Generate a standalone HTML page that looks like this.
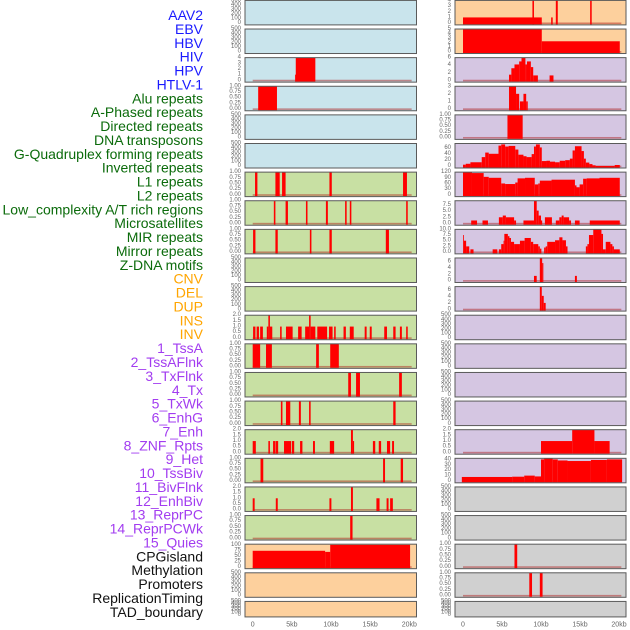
<!DOCTYPE html>
<html><head><meta charset="utf-8"><style>
html,body{margin:0;padding:0;background:#fff;width:630px;height:630px;overflow:hidden}
svg{display:block}
text{font-family:"Liberation Sans",sans-serif}
</style></head><body>
<svg id="chart" width="630" height="630" viewBox="0 0 630 630" xmlns="http://www.w3.org/2000/svg">
<g id="labels"></g>
<g id="panels"></g>
<g id="xaxes"></g>
</svg>
<script>
// ---- data ----
const featureNames = ["AAV2","EBV","HBV","HIV","HPV","HTLV-1","Alu repeats","A-Phased repeats","Directed repeats","DNA transposons","G-Quadruplex forming repeats","Inverted repeats","L1 repeats","L2 repeats","Low_complexity A/T rich regions","Microsatellites","MIR repeats","Mirror repeats","Z-DNA motifs","CNV","DEL","DUP","INS","INV","1_TssA","2_TssAFlnk","3_TxFlnk","4_Tx","5_TxWk","6_EnhG","7_Enh","8_ZNF_Rpts","9_Het","10_TssBiv","11_BivFlnk","12_EnhBiv","13_ReprPC","14_ReprPCWk","15_Quies","CPGisland","Methylation","Promoters","ReplicationTiming","TAD_boundary"];
const featureGroups = ["virus","virus","virus","virus","virus","virus","repeat","repeat","repeat","repeat","repeat","repeat","repeat","repeat","repeat","repeat","repeat","repeat","repeat","sv","sv","sv","sv","sv","chrom","chrom","chrom","chrom","chrom","chrom","chrom","chrom","chrom","chrom","chrom","chrom","chrom","chrom","chrom","other","other","other","other","other"];
const xTickValues = [0,5,10,15,20];
const xTickLabels = ["0","5kb","10kb","15kb","20kb"];

const ticks500 = [0,100,200,300,400,500];
const ticks1 = [0,0.25,0.5,0.75,1];
const ticks2 = [0,0.5,1,1.5,2];
const ticks4 = [0,1,2,3,4];

// left column bars [startKb, endKb, value]
const hbvBars = [[5.4,5.5,1],[5.5,8.0,4]];
const hivBars = [[0.7,3.1,1]];
const aluBars = [[0.3,0.6,1],[2.9,3.45,1],[3.75,4.2,1],[9.8,10.1,1],[19.2,19.7,1]];
const aphasedBars = [[2.7,2.9,1],[4.2,4.5,1],[6.8,7.0,1],[9.35,9.6,1],[11.8,12.0,1],[12.4,12.6,1],[19.6,19.8,1]];
const directedBars = [[0.05,0.35,1],[2.9,3.2,1],[7.3,7.5,1],[9.8,10.1,1],[17.0,17.4,1]];
const invertedBars = [[0.05,0.35,1],[0.5,0.8,1],[0.95,1.3,1],[1.8,2.0,1],[2.0,2.2,2],[2.2,2.5,1],[3.5,3.7,1],[4.25,5.1,1],[5.8,6.25,1],[6.7,7.2,1],[7.2,7.4,2],[7.4,8.0,1],[8.25,9.5,1],[9.75,10.2,1],[10.4,10.6,1],[11.6,11.9,1],[12.4,12.9,1],[14.3,14.55,1],[14.95,15.2,1],[16.8,17.15,1],[17.95,18.25,1],[18.8,19.05,1],[19.6,19.8,1]];
const l1Bars = [[0.0,0.95,1],[1.7,2.45,1],[8.1,8.45,1],[9.9,11.0,1]];
const l2Bars = [[12.2,12.55,1],[13.2,13.7,1],[18.7,19.05,1]];
const lowCompBars = [[3.6,3.8,1],[4.25,4.8,1],[5.9,6.15,1],[7.2,7.4,1],[17.95,18.25,1]];
const microBars = [[0.0,0.4,1],[2.0,2.2,1],[2.6,2.9,1],[2.95,3.25,1],[4.0,4.9,1],[5.0,5.3,1],[6.05,6.35,1],[7.7,7.95,1],[9.85,10.4,1],[12.55,12.8,2],[12.8,12.95,1],[15.35,15.65,1],[16.1,16.4,1],[17.15,17.55,1],[17.8,18.05,1]];
const mirBars = [[1.0,1.35,1],[16.65,16.9,1],[18.9,19.2,1]];
const mirrorBars = [[0.0,0.25,1],[2.95,3.2,1],[9.8,10.05,1],[12.55,12.8,2],[15.8,16.2,1],[17.1,17.35,1],[17.55,17.9,1]];
const zdnaBars = [[12.45,12.75,1]];
const cnvBars = [[0.0,9.25,73],[9.25,9.9,68],[9.9,20.1,100]];

// right column bars
const invBars = [[0.0,10.1,1],[8.9,9.1,4],[11.3,11.5,1],[11.9,12.15,4],[16.3,16.5,4]];
const tssaBars = [[0.0,10.1,5],[10.1,20.1,2.3]];
const tssaflnkBars = [[5.9,6.2,1.5],[6.2,6.6,3.2],[6.6,7.2,4.2],[7.2,7.5,5],[7.5,8.0,6],[8.0,8.2,4.2],[8.2,8.7,5],[8.7,9.0,3.5],[9.0,9.6,1.3],[11.1,11.6,1.3]];
const txflnkBars = [[5.9,6.8,3],[6.8,7.2,2],[7.3,7.75,1],[7.75,8.1,2],[8.1,8.3,1]];
const txBars = [[5.7,7.65,1]];
const txwkBars = [[0,0.35,5],[0.35,0.95,8],[0.95,2.4,13],[2.4,2.85,30],[2.85,3.3,45],[3.3,4.55,41],[4.55,4.9,68],[4.9,5.4,72],[5.4,5.85,65],[5.85,6.7,67],[6.7,7.1,55],[7.1,7.75,38],[7.75,8.15,33],[8.15,8.8,30],[8.8,9.1,40],[9.1,9.35,65],[9.35,9.85,72],[9.85,10.1,62],[10.1,10.7,17],[10.7,11.15,18],[11.15,11.8,15],[11.8,12.4,13],[12.4,13.1,18],[13.1,13.7,20],[13.7,14.05,25],[14.05,14.35,52],[14.35,15.2,66],[15.2,15.5,50],[15.5,15.75,25],[15.75,16.2,12],[16.2,16.6,7],[16.6,17.0,3],[17.0,19.45,0.8],[19.45,20.1,4]];
const enhgBars = [[0,1.15,120],[1.15,2.65,115],[2.65,3.3,95],[3.3,4.9,90],[4.9,5.4,60],[5.4,6.7,57],[6.7,7.0,65],[7.0,7.95,87],[7.95,9.2,90],[9.2,9.65,55],[9.65,9.85,60],[9.85,11.35,75],[11.35,14.35,80],[14.35,14.55,50],[14.55,14.95,40],[14.95,15.4,55],[15.4,15.85,85],[15.85,17.5,87],[17.5,20.1,90]];
const enhBars = [[1.05,1.8,1.2],[2.5,3.2,1.2],[4.6,5.1,2.5],[5.1,5.5,3.2],[5.5,6.55,2.5],[6.55,6.8,1.2],[7.75,9.1,1.2],[9.1,9.45,9.2],[9.45,9.7,5.2],[9.7,10.0,3.2],[10.0,10.15,1.2],[10.5,11.4,2.5],[11.9,12.35,1.2],[12.35,12.65,2.5],[12.65,12.9,3.2],[12.9,13.6,2.5],[13.6,13.85,1.2],[14.35,14.95,1.2],[16.25,20.1,1.2]];
const znfBars = [[0,0.1,7.5],[0.1,0.4,5],[0.4,0.8,2.5],[0.95,1.35,1.2],[3.8,4.4,1.2],[4.6,4.9,1.2],[4.9,5.2,3.5],[5.2,5.3,5],[5.3,5.75,8],[5.75,5.95,7],[5.95,6.15,6.2],[6.15,6.55,4.5],[6.55,7.3,3.5],[7.3,7.9,5],[7.9,8.7,6.2],[8.7,9.0,4.5],[9.0,9.65,3.5],[9.65,9.85,2.5],[9.85,10.05,1.5],[10.4,10.6,2],[10.6,10.8,2.5],[10.8,11.8,4.5],[11.8,12.35,5.2],[12.35,12.75,6.5],[12.75,13.2,5.2],[13.2,13.4,2.5],[15.75,15.95,2.5],[15.95,16.15,3.5],[16.15,16.7,7.5],[16.7,17.75,10],[17.75,17.95,8],[17.95,18.3,1.2],[18.3,18.9,4.5],[18.9,19.15,3.5],[19.15,19.35,2.5],[19.35,20.1,1.2]];
const hetBars = [[9.1,9.45,1.5],[9.85,10.15,7.1],[10.15,10.3,5.5],[14.35,14.6,1.5]];
const tssbivBars = [[9.85,10.1,7.1],[10.1,10.35,4.2],[10.35,10.6,2]];
const reprpcwkBars = [[10.0,14.0,1],[14.0,16.85,2],[16.85,18.8,1]];
const quiesBars = [[-0.15,6.3,7.5],[6.3,7.85,8],[7.85,9.2,10],[9.2,10.0,8.5],[10.0,10.4,40],[10.4,11.5,42],[11.5,12.15,40],[12.15,13.4,38],[13.4,16.4,37],[16.4,18.45,39],[18.45,20.4,40]];
const methylBars = [[6.6,6.95,1]];
const promoterBars = [[8.5,8.85,1],[9.85,10.2,1]];

// panel list: column, row, group, yMax, ticks, bars
const panelSpecs = [
 ["L",0,"virus",500,ticks500,null,"aav2"],
 ["L",1,"virus",500,ticks500,null,"ebv"],
 ["L",2,"virus",4,ticks4,hbvBars,"hbv"],
 ["L",3,"virus",1,ticks1,hivBars,"hiv"],
 ["L",4,"virus",500,ticks500,null,"hpv"],
 ["L",5,"virus",500,ticks500,null,"htlv1"],
 ["L",6,"repeat",1,ticks1,aluBars,"alu"],
 ["L",7,"repeat",1,ticks1,aphasedBars,"a-phased"],
 ["L",8,"repeat",1,ticks1,directedBars,"directed"],
 ["L",9,"repeat",500,ticks500,null,"dna-transposons"],
 ["L",10,"repeat",500,ticks500,null,"g-quadruplex"],
 ["L",11,"repeat",2,ticks2,invertedBars,"inverted"],
 ["L",12,"repeat",1,ticks1,l1Bars,"l1"],
 ["L",13,"repeat",1,ticks1,l2Bars,"l2"],
 ["L",14,"repeat",1,ticks1,lowCompBars,"low-complexity"],
 ["L",15,"repeat",2,ticks2,microBars,"microsatellites"],
 ["L",16,"repeat",1,ticks1,mirBars,"mir"],
 ["L",17,"repeat",2,ticks2,mirrorBars,"mirror"],
 ["L",18,"repeat",1,ticks1,zdnaBars,"z-dna"],
 ["L",19,"sv",103,[0,25,50,75,100],cnvBars,"cnv"],
 ["L",20,"sv",500,ticks500,null,"del"],
 ["L",21,"sv",500,ticks500,null,"dup"],
 ["R",0,"sv",4,ticks4,invBars,"ins"],
 ["R",1,"sv",5,[0,1,2,3,4,5],tssaBars,"inv"],
 ["R",2,"chrom",6,[0,2,4,6],tssaflnkBars,"tssa"],
 ["R",3,"chrom",3,[0,1,2,3],txflnkBars,"tssaflnk"],
 ["R",4,"chrom",1,ticks1,txBars,"txflnk"],
 ["R",5,"chrom",75,[0,20,40,60],txwkBars,"tx"],
 ["R",6,"chrom",120,[0,30,60,90,120],enhgBars,"txwk"],
 ["R",7,"chrom",9.2,[0,2.5,5,7.5],enhBars,"enhg"],
 ["R",8,"chrom",10,[0,2.5,5,7.5,10],znfBars,"enh"],
 ["R",9,"chrom",7.1,[0,2,4,6],hetBars,"znf-rpts"],
 ["R",10,"chrom",7.1,[0,2,4,6],tssbivBars,"het"],
 ["R",11,"chrom",500,ticks500,null,"tssbiv"],
 ["R",12,"chrom",500,ticks500,null,"bivflnk"],
 ["R",13,"chrom",500,ticks500,null,"enhbiv"],
 ["R",14,"chrom",500,ticks500,null,"reprpc"],
 ["R",15,"chrom",2,ticks2,reprpcwkBars,"reprpcwk"],
 ["R",16,"chrom",42,[0,10,20,30,40],quiesBars,"quies"],
 ["R",17,"other",500,ticks500,null,"cpgisland"],
 ["R",18,"other",500,ticks500,null,"methylation-empty"],
 ["R",19,"other",1,ticks1,methylBars,"methylation"],
 ["R",20,"other",1,ticks1,promoterBars,"promoters"],
 ["R",21,"other",500,ticks500,null,"tad-boundary"]
];

// ---- styling / layout ----
const labelColors = {virus:"#1a1aff",repeat:"#0b6b0b",sv:"#ffa500",chrom:"#a23cf0",other:"#111"};
const bgColors = {virus:"#c9e4ec",repeat:"#c8e0a3",sv:"#fdd09d",chrom:"#d5c6e2",other:"#d0d0d0"};
const colGeom = {L:{x0:245,x1:416.5,zero:252.7,ppk:7.83,tickX:241},R:{x0:455,x1:626,zero:463,ppk:7.8,tickX:451}};
const NS="http://www.w3.org/2000/svg";
function mk(tag, attrs, parent){const e=document.createElementNS(NS,tag);for(const k in attrs)e.setAttribute(k,attrs[k]);parent.appendChild(e);return e;}
function fmt(v, ticks){const mx=Math.max(...ticks);if(mx===1)return v.toFixed(2);if(ticks.some(t=>t%1!==0))return v.toFixed(1);return String(v);}

const labelsG=document.getElementById('labels');
featureNames.forEach((n,i)=>{
  const t=mk('text',{x:203,y:15+i*13.88,'text-anchor':'end','dominant-baseline':'central','font-size':'14',fill:labelColors[featureGroups[i]]},labelsG);
  
  
  t.textContent=n;
});

const panelsG=document.getElementById('panels');
panelSpecs.forEach(([col,row,grp,yMax,ticks,bars,name])=>{
  const c=colGeom[col];
  const top=0.4+row*28.62;
  const h=row===21?15.5:24.5;
  const bottom=top+h;
  const pad=1.8;
  const xs=kb=>c.zero+kb*c.ppk;
  const ys=v=>bottom-pad-(v/yMax)*(h-pad);
  const g=mk('g',{},panelsG);
  
  
  mk('rect',{x:c.x0,y:top,width:c.x1-c.x0,height:h,fill:bgColors[grp]},g);
  if(bars){
    mk('rect',{x:xs(0),y:bottom-pad-0.6,width:xs(20.3)-xs(0),height:1.6,fill:'rgba(170,20,20,0.45)'},g);
    bars.forEach(b=>{
      const y=Math.max(top,ys(b[2]));
      const r=mk('rect',{x:xs(b[0]),y:y,width:Math.max(0.8,xs(b[1])-xs(b[0])),height:ys(0)-y+pad-0.5,fill:'#ff0000'},g);
      
      
    });
  }
  mk('rect',{x:c.x0,y:top,width:c.x1-c.x0,height:h,fill:'none',stroke:'#5a5a5a','stroke-width':'1'},g);
  ticks.forEach(tv=>{
    const t=mk('text',{x:c.tickX,y:ys(tv),'text-anchor':'end','dominant-baseline':'central','font-size':'6',fill:'#666'},g);
    
    
    t.textContent=fmt(tv,ticks);
  });
});

const xg=document.getElementById('xaxes');
["L","R"].forEach(col=>{
  const c=colGeom[col];
  xTickValues.forEach((v,i)=>{
    const t=mk('text',{x:c.zero+v*c.ppk,y:625,'text-anchor':'middle','dominant-baseline':'central','font-size':'7',fill:'#666'},xg);
    
    
    t.textContent=xTickLabels[i];
  });
});
</script>
</body></html>
